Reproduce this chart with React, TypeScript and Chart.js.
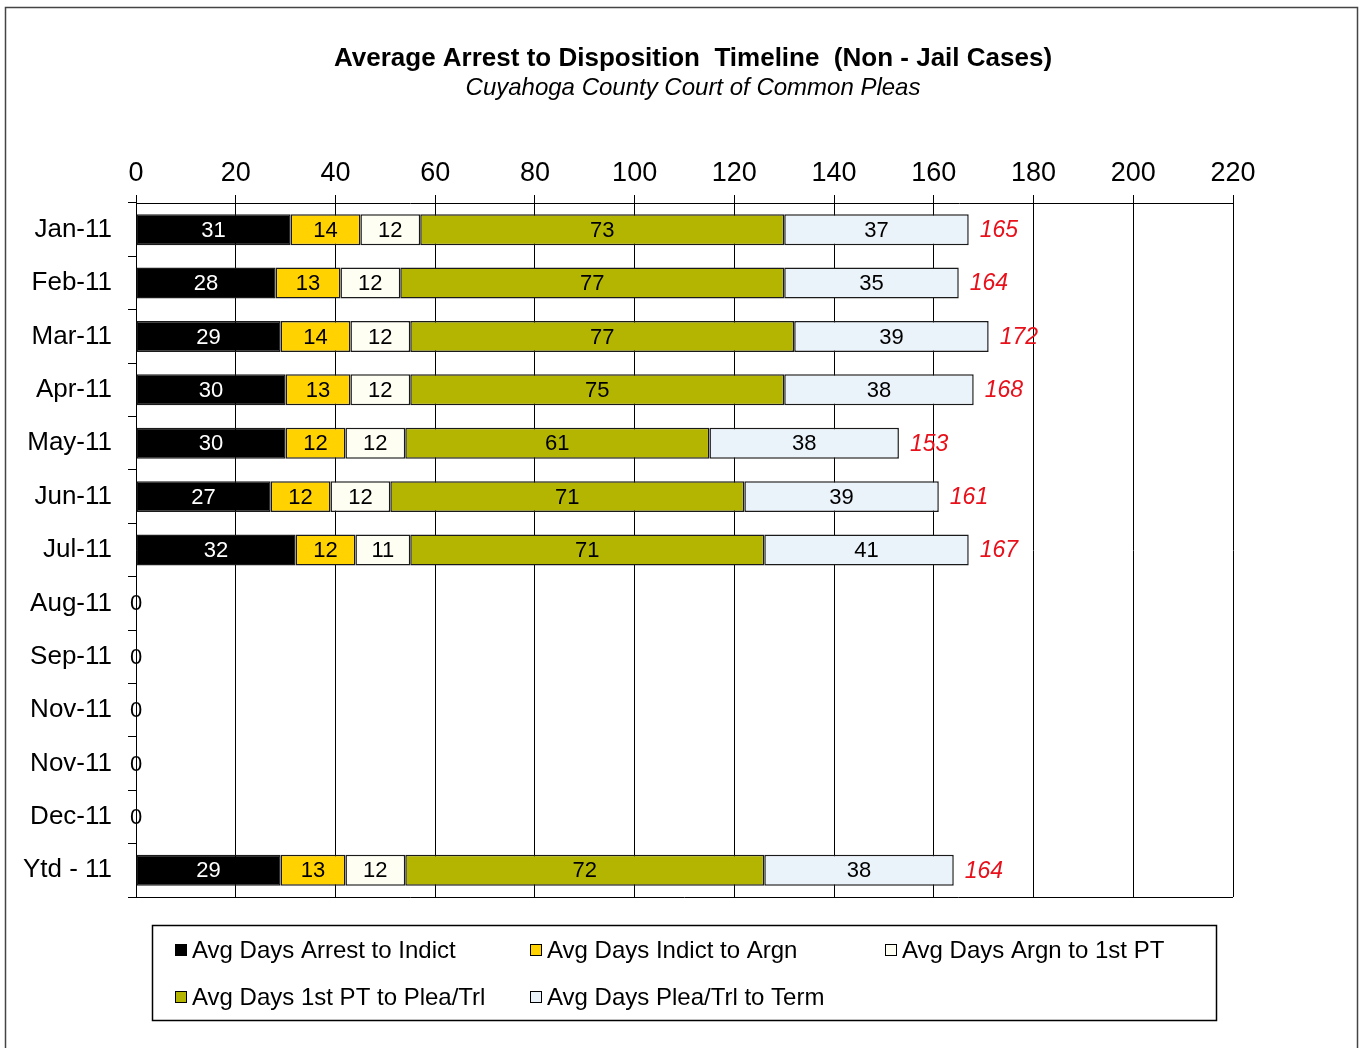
import React, { useEffect, useRef } from "react";
import { Chart, registerables } from "chart.js";

Chart.register(...registerables);

const categories = ["Jan-11", "Feb-11", "Mar-11", "Apr-11", "May-11", "Jun-11", "Jul-11", "Aug-11", "Sep-11", "Nov-11", "Nov-11", "Dec-11", "Ytd - 11"];
const arrestToIndict = [31, 28, 29, 30, 30, 27, 32, 0, 0, 0, 0, 0, 29];
const indictToArgn = [14, 13, 14, 13, 12, 12, 12, 0, 0, 0, 0, 0, 13];
const argnTo1stPT = [12, 12, 12, 12, 12, 12, 11, 0, 0, 0, 0, 0, 12];
const firstPTToPlea = [73, 77, 77, 75, 61, 71, 71, 0, 0, 0, 0, 0, 72];
const pleaToTerm = [37, 35, 39, 38, 38, 39, 41, 0, 0, 0, 0, 0, 38];
const totals: (number | null)[] = [165, 164, 172, 168, 153, 161, 167, null, null, null, null, null, 164];
const seriesNames = ["Avg Days Arrest to Indict", "Avg Days Indict to Argn", "Avg Days Argn to 1st PT", "Avg Days 1st PT to Plea/Trl", "Avg Days Plea/Trl to Term"];
const seriesColors = ["#000000", "#FFD200", "#FFFEF2", "#B3B500", "#EAF2FA"];
const labelColors = ["#FFFFFF", "#000000", "#000000", "#000000", "#000000"];
const xMin = 0;
const xMax = 220;
const xStep = 20;
const titleText = "Average Arrest to Disposition  Timeline  (Non - Jail Cases)";
const subtitleText = "Cuyahoga County Court of Common Pleas";

const FONT = '"Liberation Sans", Arial, sans-serif';

const decorPlugin = {
  id: "decor",
  afterDatasetsDraw(chart: any) {
    const ctx = chart.ctx;
    const area = chart.chartArea;
    ctx.save();
    ctx.strokeStyle = "#000";
    ctx.lineWidth = 1;
    ctx.beginPath();
    ctx.moveTo(area.left, Math.round(area.bottom) + 0.5);
    ctx.lineTo(area.right, Math.round(area.bottom) + 0.5);
    ctx.stroke();

    ctx.font = `22px ${FONT}`;
    ctx.textAlign = "center";
    ctx.textBaseline = "middle";
    chart.data.datasets.forEach((ds: any, di: number) => {
      const meta = chart.getDatasetMeta(di);
      meta.data.forEach((bar: any, i: number) => {
        const v = ds.data[i];
        if (v === 0) {
          if (di === 0) {
            ctx.fillStyle = "#000";
            ctx.fillText("0", bar.base, bar.y + 1);
          }
          return;
        }
        ctx.fillStyle = labelColors[di];
        ctx.fillText(String(v), (bar.x + bar.base) / 2, bar.y + 1);
      });
    });

    ctx.font = `italic 23px ${FONT}`;
    ctx.fillStyle = "#E8101A";
    ctx.textAlign = "left";
    const lastMeta = chart.getDatasetMeta(chart.data.datasets.length - 1);
    totals.forEach((t, i) => {
      if (t == null) return;
      const bar = lastMeta.data[i];
      ctx.fillText(String(t), bar.x + 11, bar.y + 1);
    });
    ctx.restore();
  },
  afterDraw(chart: any) {
    const ctx = chart.ctx;
    ctx.save();
    ctx.strokeStyle = "#444";
    ctx.lineWidth = 1.5;
    ctx.strokeRect(5.5, 7.5, 1352, 1100);

    ctx.fillStyle = "#000";
    ctx.textAlign = "center";
    ctx.textBaseline = "middle";
    ctx.font = `bold 26px ${FONT}`;
    ctx.fillText(titleText, 693, 59);
    ctx.font = `italic 24px ${FONT}`;
    ctx.fillText(subtitleText, 693, 88);

    ctx.strokeStyle = "#000";
    ctx.lineWidth = 1.5;
    ctx.strokeRect(152.5, 925.5, 1064, 95);
    const pos = [
      [175, 950],
      [530, 950],
      [885, 950],
      [175, 997],
      [530, 997],
    ];
    ctx.font = `24px ${FONT}`;
    ctx.textAlign = "left";
    seriesNames.forEach((name, i) => {
      const [x, y] = pos[i];
      ctx.fillStyle = seriesColors[i];
      ctx.fillRect(x, y - 6, 12, 12);
      ctx.strokeStyle = "#000";
      ctx.lineWidth = 1;
      ctx.strokeRect(x + 0.5, y - 5.5, 11, 11);
      ctx.fillStyle = "#000";
      ctx.fillText(name, x + 17, y + 1);
    });
    ctx.restore();
  },
};

export default function App() {
  const ref = useRef<HTMLCanvasElement | null>(null);
  useEffect(() => {
    if (!ref.current) return;
    const chart = new Chart(ref.current, {
      type: "bar",
      data: {
        labels: categories,
        datasets: [arrestToIndict, indictToArgn, argnTo1stPT, firstPTToPlea, pleaToTerm].map((d, i) => ({
          label: seriesNames[i],
          data: d,
          backgroundColor: seriesColors[i],
          borderColor: "#1a1a1a",
          borderWidth: 1.5,
          borderSkipped: false,
          barPercentage: 0.58,
          categoryPercentage: 1,
        })),
      },
      options: {
        indexAxis: "y",
        animation: false,
        responsive: false,
        devicePixelRatio: 1,
        layout: { padding: { left: 0, top: 150, right: 130, bottom: 151 } },
        plugins: {
          legend: { display: false },
          title: { display: false },
          tooltip: { enabled: false },
        },
        scales: {
          x: {
            type: "linear",
            position: "top",
            min: xMin,
            max: xMax,
            stacked: true,
            ticks: { stepSize: xStep, font: { size: 27, family: FONT }, color: "#000", padding: 5 },
            grid: { color: "#000", lineWidth: 1, tickLength: 8, drawTicks: true },
            border: { color: "#000", width: 1 },
            afterFit(s: any) {
              s.height = 53;
            },
          },
          y: {
            type: "category",
            stacked: true,
            ticks: { font: { size: 26, family: FONT }, color: "#000", padding: 16 },
            grid: { offset: true, drawOnChartArea: false, drawTicks: true, tickLength: 8, color: "#000" },
            border: { color: "#000", width: 1 },
            afterFit(s: any) {
              s.width = 136;
            },
          },
        },
      } as any,
      plugins: [decorPlugin],
    });
    return () => chart.destroy();
  }, []);
  return (
    <div style={{ position: "absolute", left: 0, top: 0, width: 1363, height: 1048, background: "#fff" }}>
      <canvas ref={ref} width={1363} height={1048} style={{ display: "block", width: 1363, height: 1048 }} />
    </div>
  );
}
